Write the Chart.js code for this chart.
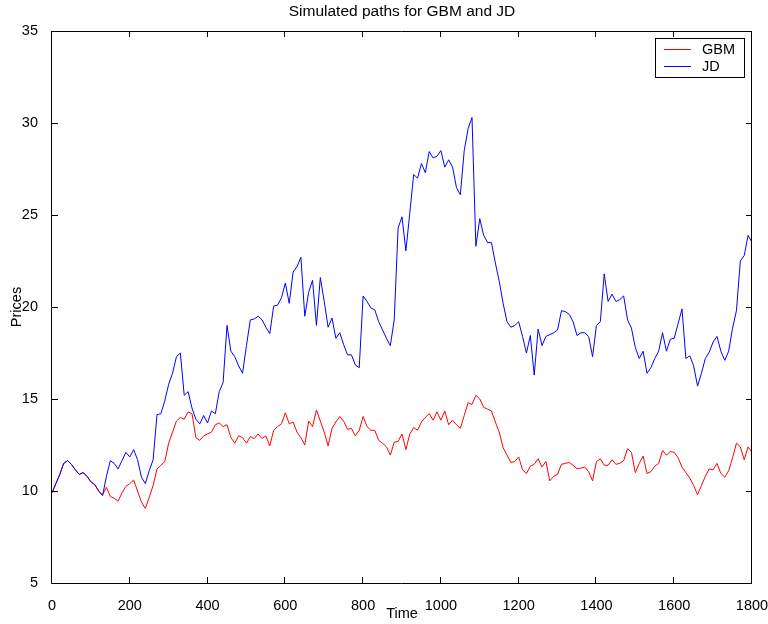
<!DOCTYPE html>
<html>
<head>
<meta charset="utf-8">
<title>Simulated paths for GBM and JD</title>
<script src="https://cdn.jsdelivr.net/npm/chart.js@4.4.0/dist/chart.umd.min.js"></script>
<style>
  html, body { margin: 0; padding: 0; background: #fff; }
  canvas { display: block; }
</style>
</head>
<body>
<canvas id="paths" width="768" height="624"></canvas>
<script>
// sampling times, one value every 10 steps
const time = Array.from({ length: 181 }, (_, i) => i * 10);

// geometric brownian motion path
const gbm = [
  9.9, 10.4, 10.9, 11.5, 11.65, 11.45, 11.15, 10.9, 11.0, 10.8, 10.5, 10.35, 10.0, 9.8,
  10.2, 9.7, 9.6, 9.45, 9.9, 10.25, 10.4, 10.6, 10.0, 9.4,
  9.05, 9.65, 10.3, 11.2, 11.4, 11.6, 12.6, 13.2, 13.8, 14.0,
  13.9, 14.3, 14.2, 12.9, 12.75, 13.0, 13.1, 13.2, 13.6, 13.7,
  13.5, 13.6, 12.9, 12.6, 13.0, 12.9, 12.6, 12.95, 12.85, 13.1,
  12.85, 13.0, 12.45, 13.3, 13.5, 13.65, 14.25, 13.65, 13.75, 13.2,
  12.9, 12.5, 13.8, 13.5, 14.4, 13.8, 13.2, 12.45, 13.4, 13.75,
  14.05, 13.8, 13.35, 13.4, 13.0, 13.3, 14.05, 13.5, 13.3, 13.3,
  12.75, 12.6, 12.4, 11.95, 12.65, 12.7, 13.1, 12.25, 13.1, 13.45,
  13.3, 13.75, 14.0, 14.2, 13.85, 14.3, 13.85, 14.35, 13.6, 13.85,
  13.6, 13.4, 14.1, 14.8, 14.7, 15.2, 15.0, 14.55, 14.45, 14.35,
  13.75, 13.2, 12.35, 11.95, 11.55, 11.6, 11.85, 11.15, 10.95, 11.35,
  11.45, 11.75, 11.3, 11.6, 10.55, 10.8, 10.9, 11.45, 11.5, 11.55,
  11.4, 11.2, 11.25, 11.3, 11.05, 10.55, 11.6, 11.75, 11.4, 11.4,
  11.7, 11.45, 11.5, 11.65, 12.3, 12.1, 11.0, 11.5, 11.9, 10.95,
  11.05, 11.35, 11.5, 12.2, 11.95, 12.15, 12.1, 11.8, 11.3, 11.0,
  10.7, 10.3, 9.8, 10.3, 10.8, 11.2, 11.15, 11.5, 10.95, 10.75,
  11.1, 11.8, 12.6, 12.4, 11.7, 12.4, 12.1
];

// jump diffusion path
const jd = [
  9.9, 10.4, 10.9, 11.5, 11.65, 11.45, 11.15, 10.9, 11.0, 10.8, 10.5, 10.35, 10.0, 9.75,
  10.8, 11.65, 11.5, 11.2, 11.65, 12.1, 11.85, 12.25, 11.7, 10.75,
  10.4, 11.1, 11.7, 14.15, 14.2, 14.9, 15.8, 16.4, 17.3, 17.5,
  15.2, 15.4, 14.5, 13.9, 13.65, 14.1, 13.7, 14.35, 14.2, 15.4,
  15.9, 19.0, 17.6, 17.3, 16.8, 16.4, 17.9, 19.3, 19.35, 19.5,
  19.3, 18.9, 18.55, 20.05, 20.1, 20.5, 21.3, 20.2, 21.9, 22.2,
  22.7, 19.5, 20.8, 21.45, 19.0, 21.6, 20.3, 18.9, 19.4, 18.3,
  18.6, 17.95, 17.4, 17.4, 16.85, 16.7, 20.6, 20.3, 19.95, 19.85,
  19.2, 18.75, 18.3, 17.9, 19.3, 24.3, 24.9, 23.05, 25.1, 27.2,
  27.0, 27.8, 27.3, 28.45, 28.1, 28.2, 28.5, 27.6, 28.0, 27.6,
  26.5, 26.1, 28.5, 29.7, 30.3, 23.3, 24.8, 23.9, 23.5, 23.5,
  22.4, 21.4, 20.2, 19.2, 18.9, 19.0, 19.2, 18.4, 17.5, 18.45,
  16.3, 18.8, 17.9, 18.4, 18.5, 18.6, 18.75, 19.8, 19.75, 19.6,
  19.2, 18.45, 18.6, 18.6, 18.4, 17.3, 19.0, 19.2, 21.8, 20.3,
  20.7, 20.3, 20.4, 20.6, 19.3, 18.85, 17.8, 17.2, 17.6, 16.4,
  16.7, 17.2, 17.6, 18.6, 17.6, 18.25, 18.3, 19.1, 19.9, 17.2,
  17.35, 16.8, 15.7, 16.4, 17.2, 17.55, 18.1, 18.4, 17.6, 17.1,
  17.6, 18.85, 19.8, 22.5, 22.8, 23.9, 23.5
];

const xTicks = [0, 200, 400, 600, 800, 1000, 1200, 1400, 1600, 1800];
const yTicks = [5, 10, 15, 20, 25, 30, 35];

const FONT = '"Liberation Sans", Arial, Helvetica, sans-serif';
Chart.defaults.font.family = FONT;
Chart.defaults.font.size = 14.5;
Chart.defaults.color = '#000';

const TICK_LEN = 6;

// box around the axes with inward ticks on all four sides
const frameTicks = {
  id: 'frameTicks',
  afterDatasetsDraw(chart) {
    const { ctx, chartArea: a, scales: { x, y } } = chart;
    ctx.save();
    ctx.strokeStyle = '#000';
    ctx.lineWidth = 1;
    ctx.beginPath();
    ctx.rect(a.left - 0.5, a.top + 0.5, a.right - a.left, a.bottom - a.top);
    x.ticks.forEach(t => {
      const px = Math.round(x.getPixelForValue(t.value)) - 0.5;
      ctx.moveTo(px, a.bottom); ctx.lineTo(px, a.bottom - TICK_LEN);
      ctx.moveTo(px, a.top); ctx.lineTo(px, a.top + TICK_LEN);
    });
    y.ticks.forEach(t => {
      const py = Math.round(y.getPixelForValue(t.value)) + 0.5;
      ctx.moveTo(a.left, py); ctx.lineTo(a.left + TICK_LEN, py);
      ctx.moveTo(a.right, py); ctx.lineTo(a.right - TICK_LEN, py);
    });
    ctx.stroke();
    ctx.restore();
  }
};

// legend drawn inside the axes, top right, with a border
const boxedLegend = {
  id: 'boxedLegend',
  afterDraw(chart) {
    const { ctx, chartArea: a } = chart;
    const w = 89, h = 39;
    const left = a.right - 8 - w, top = a.top + 7;
    ctx.save();
    ctx.fillStyle = '#fff';
    ctx.fillRect(left, top, w, h);
    ctx.strokeStyle = '#000';
    ctx.lineWidth = 1;
    ctx.strokeRect(left + 0.5, top + 0.5, w, h);
    ctx.font = '14.5px ' + FONT;
    ctx.textBaseline = 'middle';
    chart.data.datasets.forEach((ds, i) => {
      const yy = top + 11.5 + i * 17;
      ctx.strokeStyle = ds.borderColor;
      ctx.beginPath();
      ctx.moveTo(left + 9, yy);
      ctx.lineTo(left + 36, yy);
      ctx.stroke();
      ctx.fillStyle = '#000';
      ctx.fillText(ds.label, left + 47, yy + 0.5);
    });
    ctx.restore();
  }
};

const toPoints = vals => time.map((t, i) => ({ x: t, y: vals[i] }));

new Chart(document.getElementById('paths'), {
  type: 'line',
  data: {
    datasets: [
      { label: 'GBM', data: toPoints(gbm), borderColor: '#ff0000', borderWidth: 1, pointRadius: 0, order: 1 },
      { label: 'JD', data: toPoints(jd), borderColor: '#0000ff', borderWidth: 1, pointRadius: 0, order: 0 }
    ]
  },
  options: {
    responsive: false,
    animation: false,
    events: [],
    layout: { padding: { left: 0, right: 16, top: 0, bottom: 0 } },
    plugins: {
      legend: { display: false },
      tooltip: { enabled: false },
      title: {
        display: true,
        text: 'Simulated paths for GBM and JD',
        fullSize: false,
        font: { size: 15.5, weight: 'normal' },
        padding: { top: 2.5, bottom: 9.9 }
      }
    },
    scales: {
      x: {
        type: 'linear',
        min: 0,
        max: 1800,
        grid: { display: false },
        border: { display: false },
        afterBuildTicks: s => { s.ticks = xTicks.map(v => ({ value: v })); },
        afterFit: s => { s.height = 41; s.paddingLeft = 0; s.paddingRight = 0; },
        ticks: { padding: 6, maxRotation: 0, autoSkip: false, callback: v => String(v) },
        title: { display: true, text: 'Time', padding: { top: 0, bottom: 1 } }
      },
      y: {
        type: 'linear',
        min: 5,
        max: 35,
        grid: { display: false },
        border: { display: false },
        afterBuildTicks: s => { s.ticks = yTicks.map(v => ({ value: v })); },
        afterFit: s => { s.width = 52; s.paddingTop = 0; s.paddingBottom = 0; },
        ticks: { padding: 6, autoSkip: false, callback: v => String(v) },
        title: { display: true, text: 'Prices', padding: { top: 8, bottom: 0 } }
      }
    }
  },
  plugins: [frameTicks, boxedLegend]
});
</script>
</body>
</html>
